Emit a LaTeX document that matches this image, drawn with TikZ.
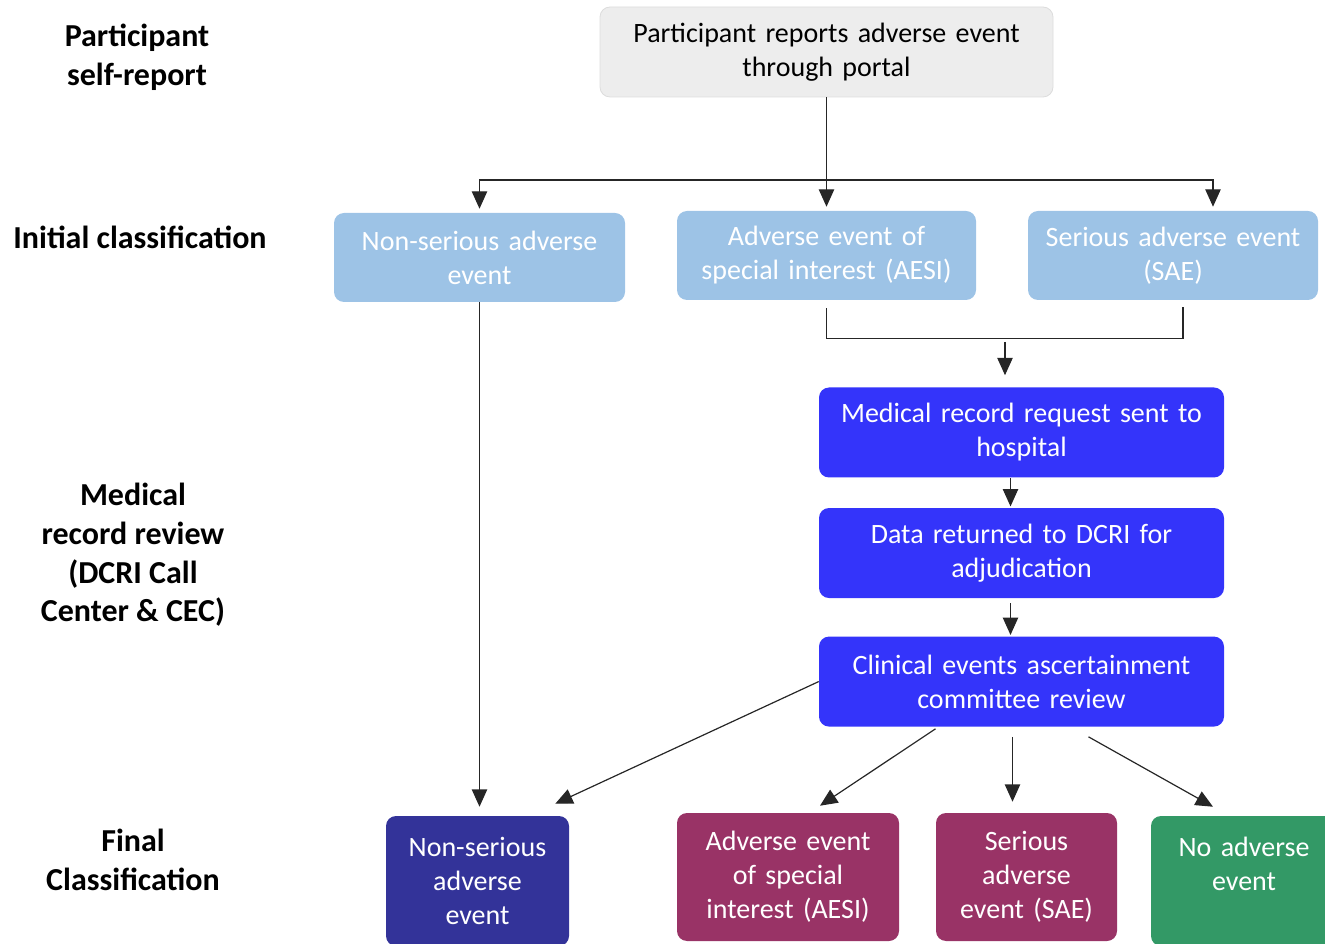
\documentclass[tikz,border=0pt]{standalone}
\usepackage{fontspec}
\setmainfont{Carlito}
\usetikzlibrary{arrows.meta, positioning, calc}

\definecolor{greyfill}{HTML}{EDEDED}
\definecolor{greyline}{HTML}{DCDCDC}
\definecolor{paleblue}{HTML}{9DC3E6}
\definecolor{brightblue}{HTML}{3434FA}
\definecolor{indigo}{HTML}{333399}
\definecolor{plum}{HTML}{993366}
\definecolor{seagreen}{HTML}{339966}

\begin{document}
\begin{tikzpicture}[x=0.75pt, y=-0.75pt]
			\tikzset {>={Triangle[length=13pt, width=11.5pt]}, link/.style={line width=0.9pt, draw=black!85},
				box/.style={rounded corners=7.5pt, align=center, inner sep=0pt, font=\fontsize{21}{25.5}\selectfont},
				report box/.style={box, fill=greyfill, draw=greyline, line width=0.6pt, text=black},
				initial box/.style={box, fill=paleblue, draw=none, text=white},
				review box/.style={box, fill=brightblue, draw=none, text=white, minimum width=303.75pt, minimum height=67.5pt, text width=295pt},
				final box/.style={box, draw=none, text=white, minimum height=96pt},
				side label/.style={align=center, font=\fontsize{24}{29}\selectfont\bfseries} }
			\clip (0,0) rectangle (1325,944);

			% row labels
			\node[side label] (lself) at (137,57) {Participant\\self-report};
			\node[side label] (linit) at (140,237) {Initial classification};
			\node[side label] (lmed) at (133,555) {Medical\\record review\\(DCRI Call\\Center \& CEC)};
			\node[side label] (lfinal) at (133,860) {Final\\Classification};

			% boxes
			\node[report box, minimum width=339.75pt, minimum height=67.5pt, text width=335pt] (report) at (826.5,52) {Participant reports adverse event\\through portal};
			\node[initial box, minimum width=218.25pt, minimum height=66.75pt, text width=214pt] (ini1) at (479.5,257.5) {Non-serious adverse\\event};
			\node[initial box, minimum width=224.25pt, minimum height=66.75pt, text width=220pt] (ini2) at (826.5,255.5) {Adverse event of\\special interest (AESI)};
			\node[initial box, minimum width=217.5pt, minimum height=66.75pt, text width=214pt] (ini3) at (1173,255.5) {Serious adverse event\\(SAE)};

			\node[review box] (med) at (1021.5,432.5) {Medical record request sent to\\hospital};
			\node[review box, below=22.5pt of med] (data) {Data returned to DCRI for\\adjudication};
			\node[review box, below=28.5pt of data] (clin) {Clinical events ascertainment\\committee review};

			\node[final box, fill=indigo, minimum width=137.25pt, minimum height=97.5pt, text width=134pt] (fns) at (477.5,881) {Non-serious\\adverse\\event};
			\node[final box, fill=plum, minimum width=166.5pt, text width=162pt] (faesi) at (788,877) {Adverse event\\of special\\interest (AESI)};
			\node[final box, fill=plum, minimum width=135.75pt, text width=132pt] (fsae) at (1026.5,877) {Serious\\adverse\\event (SAE)};
			\node[final box, fill=seagreen, minimum width=139.5pt, minimum height=97.5pt, text width=134pt] (fnone) at (1244,881) {No adverse\\event\\\mbox{}};

			% connectors
			\coordinate (split) at (826.5,180);
			\coordinate (merge) at (1005,342);
			\draw[link, ->, shorten >=3pt] (report) -- (ini2);
			\draw[link, ->, shorten >=3pt] (split) -| (ini1.north);
			\draw[link, ->, shorten >=3pt] (split) -| ($(ini3.north)+(40,0)$);
			\draw[link] ($(ini2.south)+(0,8)$) |- ($(ini3.south)+(10,38)$) -- ($(ini3.south)+(10,7)$);
			\draw[link, ->, shorten >=9pt] (merge) -- (merge |- med.north);
			\draw[link, ->, shorten >=1pt] ($(med.south)+(-11,0)$) -- ($(data.north)+(-11,0)$);
			\draw[link, ->, shorten >=1pt] ($(data.south)+(-11,5)$) -- ($(clin.north)+(-11,0)$);
			\draw[link, ->] (ini1.south) -- ($(fns.north)+(2,-9)$);
			\draw[link, ->] (clin.west) -- ($(fns.north east)+(-14,-12)$);
			\draw[link, ->] ($(clin.south)+(-86,2)$) -- ($(faesi.north)+(32,-7)$);
			\draw[link, ->] ($(clin.south)+(-9,10)$) -- ($(fsae.north)+(-14,-11)$);
			\draw[link, ->] ($(clin.south)+(67,10)$) -- ($(fnone.north)+(-31,-9)$);
		\end{tikzpicture}
\end{document}
